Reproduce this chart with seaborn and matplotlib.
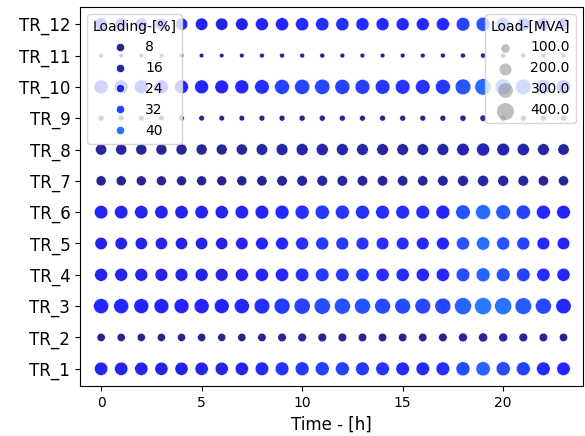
import numpy as np
import pandas as pd
import matplotlib
matplotlib.use("Agg")
import matplotlib.pyplot as plt
from matplotlib.lines import Line2D
import seaborn as sns

hours = list(range(24))
transformers = ["TR_1", "TR_2", "TR_3", "TR_4", "TR_5", "TR_6",
                "TR_7", "TR_8", "TR_9", "TR_10", "TR_11", "TR_12"]

# Load in MVA per transformer, hour 0..23
load_tr1 = [245,242,240,238,238,240,236,242,252,258,262,265,260,256,252,252,250,258,270,280,272,262,254,248]
load_tr2 = [95,93,92,91,91,92,90,93,98,101,103,104,102,100,98,98,97,101,108,113,109,104,100,96]
load_tr3 = [315,310,308,305,305,308,302,312,335,350,358,365,355,348,342,340,338,352,395,425,410,380,350,325]
load_tr4 = [232,230,228,226,226,228,224,230,238,244,248,250,246,242,240,240,238,244,255,265,258,250,242,236]
load_tr5 = [212,210,208,206,206,208,204,210,218,224,228,230,226,222,220,220,218,224,236,246,238,230,222,216]
load_tr6 = [250,246,244,242,242,244,240,246,258,266,272,276,270,264,260,258,256,266,290,310,296,280,266,256]
load_tr7 = [140,138,136,135,135,136,134,138,145,150,153,155,152,149,147,147,146,150,160,166,161,154,146,140]
load_tr8 = [172,169,167,166,166,167,164,170,182,190,195,198,192,187,184,183,182,190,212,232,220,202,188,177]
load_tr9 = [44,43,43,42,42,43,42,43,46,48,49,49,48,47,47,47,46,48,52,55,53,49,47,46]
load_tr10 = [272,268,265,262,262,265,258,268,290,305,315,320,310,302,296,295,292,305,340,375,358,330,305,285]
load_tr11 = [30,29,29,29,29,29,28,29,31,32,32,33,32,32,31,31,31,32,34,36,35,33,32,31]
load_tr12 = [220,216,214,212,212,214,210,216,228,236,240,244,238,234,230,229,228,236,255,270,260,246,234,225]

# Loading in % per transformer, hour 0..23
loading_tr1 = [25.5,25,25,24.5,24.5,25,24,25,28,30,31,32,32,31,30,28.5,28.5,29,34,37.5,34,32,28.5,28]
loading_tr2 = [13,13,12.5,12.5,12.5,12.5,12,13,13.5,14,14.5,14.5,14,14,13.5,13.5,13.5,14,15,16,15.5,14.5,13.5,13]
loading_tr3 = [28,28,27.5,27.5,27.5,27.5,27,28,29,31,32.5,34,34.5,34.5,33.5,33.5,33,33,37.5,41,40,36,33,28.5]
loading_tr4 = [25,25,24.5,24.5,24.5,24.5,23.5,25.5,27.5,28,29.5,31,31,30.5,29,29,28,28,34,37.5,35,32,29,27]
loading_tr5 = [25,25,24.5,24.5,24.5,24.5,24,25,27.5,28,29.5,31,31,30,29,29,28,28,35,39,35,32.5,28,26.5]
loading_tr6 = [26,26,25.5,25.5,25.5,25.5,25,26,27.5,28,29.5,31,30.5,29.5,29,29,29,28,35,39,36,32.5,28,26.5]
loading_tr7 = [14,14,13.5,13.5,13.5,13.5,13,14,14.5,15,15.5,15.5,15.5,15,15,15,15,15,16,16.5,16,15.5,14.5,14]
loading_tr8 = [15,15,14.5,14.5,14.5,14.5,14,15,16,16.5,17,17,16.5,16,16,16,16,16.5,18,19,18,17,16,15]
loading_tr9 = [13,13,13,13,13,13,12.5,13,13.5,14,14,14.5,14,14,13.5,13.5,13.5,14,15,15.5,15,14,13.5,13]
loading_tr10 = [28,27.5,27.5,27,27,27.5,27,28,29.5,32,32.5,33,32.5,31.5,30.5,30,30,30.5,35,39,37,34,31,29]
loading_tr11 = [12.5,12.5,12,12,12,12,12,12.5,13,13.5,13.5,14,13.5,13.5,13,13,13,13.5,14.5,15,14.5,13.5,13,12.5]
loading_tr12 = [25,25,24.5,24.5,24.5,24.5,24,25,27,28,28.5,29,29,28.5,28,28,28,28.5,32,35,33,30,28,26]

hue_ticks = [8, 16, 24, 32, 40]
size_ticks = [100.0, 200.0, 300.0, 400.0]

loads = [load_tr1, load_tr2, load_tr3, load_tr4, load_tr5, load_tr6,
         load_tr7, load_tr8, load_tr9, load_tr10, load_tr11, load_tr12]
loadings = [loading_tr1, loading_tr2, loading_tr3, loading_tr4, loading_tr5, loading_tr6,
            loading_tr7, loading_tr8, loading_tr9, loading_tr10, loading_tr11, loading_tr12]

rows = []
for tr, ld, lg in zip(transformers, loads, loadings):
    for h, a, b in zip(hours, ld, lg):
        rows.append({"Time": h, "Transformer": tr, "Load-[MVA]": a, "Loading-[%]": b})
df = pd.DataFrame(rows)

cmap = sns.blend_palette(["#26268a", "#2424ff", "#2a80ff"], as_cmap=True)
hue_norm = plt.Normalize(13, 42)
size_norm = (0, 400)
sizes = (0, 150)

fig = plt.figure(figsize=(5.85, 4.36), dpi=100)
ax = fig.add_axes([80/585, 50/436, 503/585, 379/436])

sns.scatterplot(data=df, x="Time", y="Transformer", hue="Loading-[%]", size="Load-[MVA]",
                palette=cmap, hue_norm=hue_norm, sizes=sizes, size_norm=size_norm,
                legend=False, ax=ax)

# keep TR_1 at the bottom
y0, y1 = ax.get_ylim()
if y0 > y1:
    ax.set_ylim(y1, y0)

ax.set_xlim(-1.05, 23.97)
ax.set_xlabel("Time - [h]", fontsize=12)
ax.set_ylabel("")
ax.tick_params(axis="y", labelsize=12)
ax.tick_params(axis="x", labelsize=10)

hue_handles = [Line2D([], [], marker="o", linestyle="", markersize=6,
                      markerfacecolor=cmap(hue_norm(v)), markeredgecolor="w",
                      markeredgewidth=0.5) for v in hue_ticks]
leg1 = ax.legend(hue_handles, [str(v) for v in hue_ticks], title="Loading-[%]",
                 loc="upper left", fontsize=10, title_fontsize=10)
ax.add_artist(leg1)

size_handles = [ax.scatter([], [], s=v * sizes[1] / size_norm[1], color="gray",
                           alpha=0.5, linewidths=0)
                for v in size_ticks]
ax.legend(size_handles, [f"{v:.1f}" for v in size_ticks], title="Load-[MVA]",
          loc="upper right", fontsize=10, title_fontsize=10, scatterpoints=1)

fig.savefig("out.png", dpi=100)
